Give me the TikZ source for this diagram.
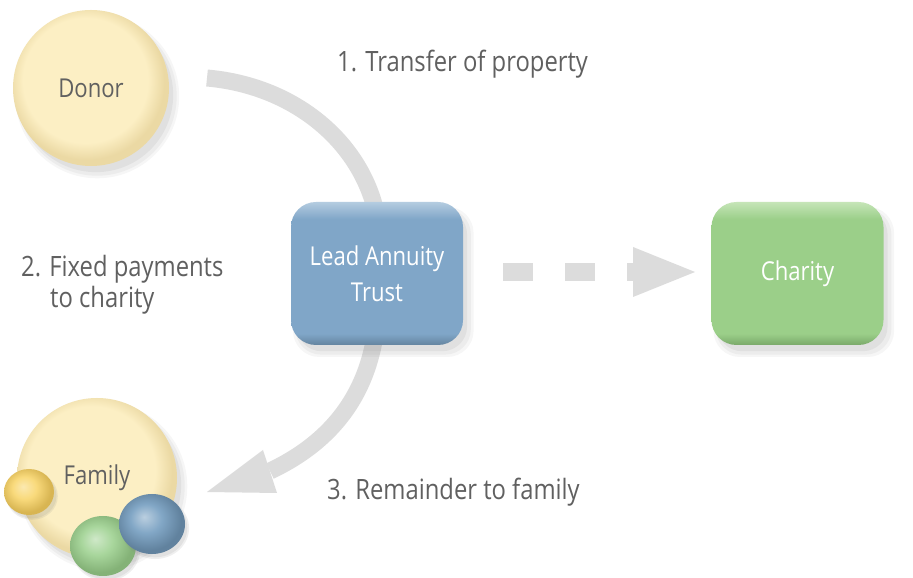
\documentclass[tikz,border=0pt]{standalone}
\usepackage{fontspec}
\setmainfont{Open Sans}[FakeStretch=0.85]
\usetikzlibrary{shapes.geometric,shadows,backgrounds,calc}
\definecolor{arcgray}{HTML}{DCDCDC}
\definecolor{txtgray}{HTML}{606060}
\definecolor{donorfill}{HTML}{FCEFC4}
\definecolor{donorrim}{HTML}{EBD9A4}
\definecolor{trustfill}{HTML}{80A6C8}
\definecolor{trustrim}{HTML}{64849F}
\definecolor{trusttop}{HTML}{B4CCE0}
\definecolor{charfill}{HTML}{9BCF89}
\definecolor{charrim}{HTML}{7AA96A}
\definecolor{chartop}{HTML}{C6E5B8}
\definecolor{ballyel}{HTML}{F9DA7C}
\definecolor{ballyelrim}{HTML}{D8B552}
\definecolor{ballgreen}{HTML}{A8D69C}
\definecolor{ballgreenrim}{HTML}{84B277}
\definecolor{ballblue}{HTML}{82A7C6}
\definecolor{ballbluerim}{HTML}{61829E}
\pgfdeclareradialshading{donorsh}{\pgfpoint{-3bp}{4bp}}{color(0bp)=(donorfill);color(20bp)=(donorfill);color(25bp)=(donorrim);color(50bp)=(donorrim)}
\pgfdeclareradialshading{yelsh}{\pgfpoint{-6bp}{6bp}}{color(0bp)=(ballyel!60!white);color(12bp)=(ballyel);color(25bp)=(ballyelrim);color(50bp)=(ballyelrim)}
\pgfdeclareradialshading{greensh}{\pgfpoint{-6bp}{6bp}}{color(0bp)=(ballgreen!55!white);color(12bp)=(ballgreen);color(25bp)=(ballgreenrim);color(50bp)=(ballgreenrim)}
\pgfdeclareradialshading{bluesh}{\pgfpoint{-6bp}{6bp}}{color(0bp)=(ballblue!55!white);color(12bp)=(ballblue);color(25bp)=(ballbluerim);color(50bp)=(ballbluerim)}
\pgfdeclareverticalshading{trustsh}{100bp}{color(0bp)=(trustrim);color(25bp)=(trustrim);color(29bp)=(trustfill);color(69bp)=(trustfill);color(75bp)=(trusttop);color(100bp)=(trusttop)}
\pgfdeclareverticalshading{charsh}{100bp}{color(0bp)=(charrim);color(25bp)=(charrim);color(29bp)=(charfill);color(69bp)=(charfill);color(75bp)=(chartop);color(100bp)=(chartop)}
\tikzset{
  softshadow/.style={
    drop shadow={opacity=0.07,shadow xshift=6pt,shadow yshift=-8pt,shadow scale=1.05},
    drop shadow={opacity=0.08,shadow xshift=6pt,shadow yshift=-8pt,shadow scale=1.02},
    drop shadow={opacity=0.10,shadow xshift=5pt,shadow yshift=-7pt,shadow scale=0.99}},
  bigball/.style={circle,inner sep=0pt,softshadow,shading=donorsh,text=txtgray,
     font=\fontsize{26}{30}\selectfont},
  box/.style={rounded corners=25pt,inner sep=0pt,minimum width=172pt,minimum height=143pt,
     softshadow,text=white,align=center,font=\fontsize{26}{36}\selectfont},
  smallball/.style={ellipse,inner sep=0pt,
     drop shadow={opacity=0.12,shadow xshift=3pt,shadow yshift=-4pt,shadow scale=1.03},
     drop shadow={opacity=0.12,shadow xshift=3pt,shadow yshift=-4pt,shadow scale=0.98}},
  label/.style={anchor=base west,inner sep=0pt,text=txtgray,align=left,font=\fontsize{28}{31}\selectfont},
  flow/.style={draw=arcgray,line width=17pt},
  head/.style={fill=arcgray},
}
\begin{document}
\begin{tikzpicture}[x=1pt,y=1pt]
\useasboundingbox (0,0) rectangle (913,578);
% nodes
\node[bigball,minimum size=156pt] (donor) at (91,490) {Donor};
\node[bigball,minimum size=160pt] (family) at (97,100) {Family};
\node[smallball,minimum width=50pt,minimum height=46pt,shading=yelsh] (by) at (29,86) {};
\node[smallball,minimum width=66pt,minimum height=60pt,shading=greensh] (bg) at (103,32) {};
\node[smallball,minimum width=66pt,minimum height=60pt,shading=bluesh] (bb) at (152,54) {};
\node[box,shading=trustsh] (trust) at (377,304.5) {Lead Annuity\\Trust};
\node[box,shading=charsh] (charity) at (797.5,304.5) {Charity};
% labels
\node[label] (l1) at (337,506) {1. Transfer of property};
\node[label] (l2) at (21,270) {2. Fixed payments\\\hspace*{29pt}to charity};
\node[label] (l3) at (327,78) {3. Remainder to family};
% connectors
\coordinate (a1) at (207,500);
\coordinate (a2) at (270,107);
\coordinate (tip) at (207,86);
\coordinate (d1) at ($(trust.east)+(40,1.5)$);
\coordinate (d2) at (633,306);
\coordinate (dtip) at (695,306);
\begin{scope}[on background layer]
  \fill[white] (0,0) rectangle (913,578);
  \draw[flow] (a1) .. controls (320,490) and (395,400) .. (trust.center)
        .. controls (385,200) and (340,140) .. (a2);
  \fill[head] (tip) -- (263,128) -- (277,85) -- cycle;
  \draw[flow,line width=18pt,dash pattern=on 30pt off 32pt] (d1) -- (d2);
  \fill[head] ($(d2)+(0,25)$) -- (dtip) -- ($(d2)+(0,-25)$) -- cycle;
\end{scope}
\end{tikzpicture}
\end{document}
